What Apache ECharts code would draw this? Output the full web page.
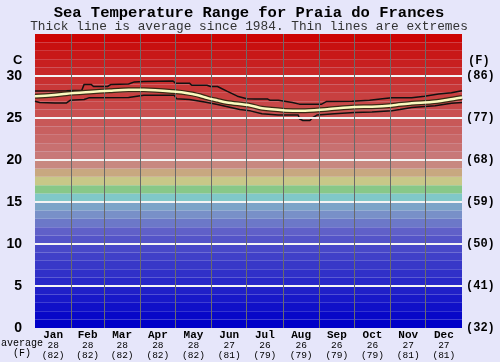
<!DOCTYPE html>
<html><head><meta charset="utf-8">
<script src="https://cdn.jsdelivr.net/npm/echarts@6/dist/echarts.min.js"></script>
<style>html,body{margin:0;padding:0;background:#e6e6fa;}#c{width:500px;height:362px;}</style>
</head><body><div id="c"></div>
<script>
// ---- data ----
const months = ['Jan','Feb','Mar','Apr','May','Jun','Jul','Aug','Sep','Oct','Nov','Dec'];
const monthAvgC = [28,28,28,28,28,27,26,26,26,26,27,27];
const monthAvgF = [82,82,82,82,82,81,79,79,79,79,81,81];
const monthStartDays = [0,31,59,90,120,151,181,212,243,273,304,334,365];
const yTicksC = [0,5,10,15,20,25,30];
const yTicksF = ['(32)','(41)','(50)','(59)','(68)','(77)','(86)'];
// [day of year, °C]
const maxTemp = [[0,28.2],[27,28.25],[40,28.3],[42,29.0],[48,29.0],[50,28.75],[62,28.75],[65,29.0],[80,29.05],[85,29.3],[93,29.35],[118,29.4],[120,29.15],[132,29.15],[134,28.9],[147,28.9],[150,28.75],[156,28.75],[164,28.2],[173,27.6],[181,27.3],[188,27.25],[199,27.25],[201,27.1],[208,27.1],[220,26.85],[226,26.65],[245,26.65],[249,26.95],[271,27.0],[286,27.1],[297,27.3],[305,27.4],[322,27.4],[333,27.6],[345,27.85],[356,28.0],[365,28.25]];
const avgTemp = [[0,27.6],[14,27.7],[27,27.9],[47,28.1],[64,28.25],[80,28.35],[93,28.35],[118,28.15],[133,27.9],[141,27.65],[147,27.4],[156,27.1],[164,26.85],[184,26.5],[194,26.15],[214,25.9],[228,25.85],[250,26.05],[273,26.3],[288,26.35],[305,26.5],[322,26.75],[339,26.9],[352,27.15],[365,27.45]];
const minTemp = [[0,27.0],[4,26.85],[17,26.8],[27,26.8],[30,27.1],[42,27.2],[46,27.4],[80,27.45],[93,27.7],[119,27.7],[121,27.3],[132,27.2],[145,26.9],[156,26.6],[175,26.0],[184,25.85],[194,25.5],[208,25.35],[225,25.35],[226,24.9],[229,24.7],[235,24.7],[237,25.0],[241,25.35],[256,25.5],[273,25.65],[288,25.7],[305,25.85],[312,26.0],[322,26.25],[342,26.45],[356,26.75],[365,26.85]];

// ---- styles ----
const bandColors = ['#0000c8','#0808c8','#1010c8','#1818c8','#2020c8','#2828c8','#3030c8','#3838c8','#4040c8','#4848c8',
  '#5454c8','#6060c8','#6c78c8','#7890c8','#7ca4c8','#80c8c8','#88c888','#c8c888','#c8a880','#c88880',
  '#c87878','#c87070','#c86868','#c86060','#c85858','#c85050','#c84848','#c84040','#c83838','#c83030',
  '#c82828','#c82020','#c81818','#c81010','#cc0404'];
const bands = bandColors.map((c,i)=>[{yAxis:i, itemStyle:{color:c, opacity:1}},{yAxis:i+1}]);
const midDays = months.map((m,i)=>(monthStartDays[i]+monthStartDays[i+1])/2);
const mono = '"Liberation Mono","DejaVu Sans Mono",monospace';

const chart = echarts.init(document.getElementById('c'), null, {renderer:'canvas'});
chart.setOption({
  backgroundColor:'#e6e6fa',
  animation:false,
  grid:{left:35, right:38, top:34, bottom:34},
  xAxis:{type:'value', min:0, max:365, axisLine:{show:false}, axisTick:{show:false}, splitLine:{show:false},
    axisLabel:{customValues:midDays, margin:2, interval:0,
      formatter:function(v){const i=midDays.indexOf(v); if(i<0) return ''; return '{m|'+months[i]+'}\n{v|'+monthAvgC[i]+'}\n{v|('+monthAvgF[i]+')}';},
      rich:{m:{fontFamily:mono, fontSize:11, fontWeight:'bold', color:'#000', lineHeight:11},
            v:{fontFamily:mono, fontSize:9.5, color:'#000', lineHeight:9.5}}}},
  yAxis:[{type:'value', min:0, max:35, interval:5, position:'left', axisLine:{show:false}, axisTick:{show:false}, splitLine:{show:false},
    axisLabel:{margin:13, formatter:function(v){return yTicksC.indexOf(v)>=0?String(v):'';},
      fontFamily:'"Liberation Sans",Arial,sans-serif', fontSize:14, fontWeight:'bold', color:'#000'}},
    {type:'value', min:0, max:35, interval:5, position:'right', axisLine:{show:false}, axisTick:{show:false}, splitLine:{show:false},
    axisLabel:{margin:4, formatter:function(v){const i=yTicksC.indexOf(v); return i>=0?yTicksF[i]:'';},
      fontFamily:mono, fontSize:12, fontWeight:'bold', color:'#000'}}],
  graphic:[
    {type:'text', x:249, y:13, style:{text:'Sea Temperature Range for Praia do Frances', align:'center', verticalAlign:'middle', font:'bold 15.5px '+mono, fill:'#000'}},
    {type:'text', x:249, y:27, style:{text:'Thick line is average since 1984. Thin lines are extremes', align:'center', verticalAlign:'middle', font:'12.8px '+mono, fill:'#333'}},
    {type:'text', left:13, top:54, style:{text:'C', font:'bold 13px "Liberation Sans",Arial,sans-serif', fill:'#000'}},
    {type:'text', left:468, top:55, style:{text:'(F)', font:'bold 12px '+mono, fill:'#000'}},
    {type:'text', left:1, top:338, style:{text:'average', font:'10px '+mono, fill:'#000'}},
    {type:'text', left:13, top:348, style:{text:'(F)', font:'10px '+mono, fill:'#000'}}
  ],
  series:[
    {type:'line', z:1, data:[[0,0]], symbol:'none', lineStyle:{opacity:0}, silent:true,
      markArea:{silent:true, data:bands}},
    {type:'line', z:2, data:[[0,0]], symbol:'none', lineStyle:{opacity:0}, silent:true,
      markLine:{silent:true, symbol:'none', label:{show:false}, animation:false,
        data:[].concat(
          [5,10,15,20,25,30].map(v=>({yAxis:v, lineStyle:{color:'#f4f4f4', width:2, type:'solid'}})),
          monthStartDays.slice(1,12).map(d=>({xAxis:d, lineStyle:{color:'#6a6a6a', width:1, type:'solid'}}))
        )}},
    {type:'line', z:3, data:maxTemp, symbol:'none', lineStyle:{color:'#111', width:1.5}},
    {type:'line', z:3, data:minTemp, symbol:'none', lineStyle:{color:'#111', width:1.5}},
    {type:'line', z:4, data:avgTemp, symbol:'none', smooth:0.3, lineStyle:{color:'#3a2a14', width:5}},
    {type:'line', z:5, data:avgTemp, symbol:'none', smooth:0.3, lineStyle:{color:'#fbfbc0', width:2.5}}
  ]
});
</script></body></html>
